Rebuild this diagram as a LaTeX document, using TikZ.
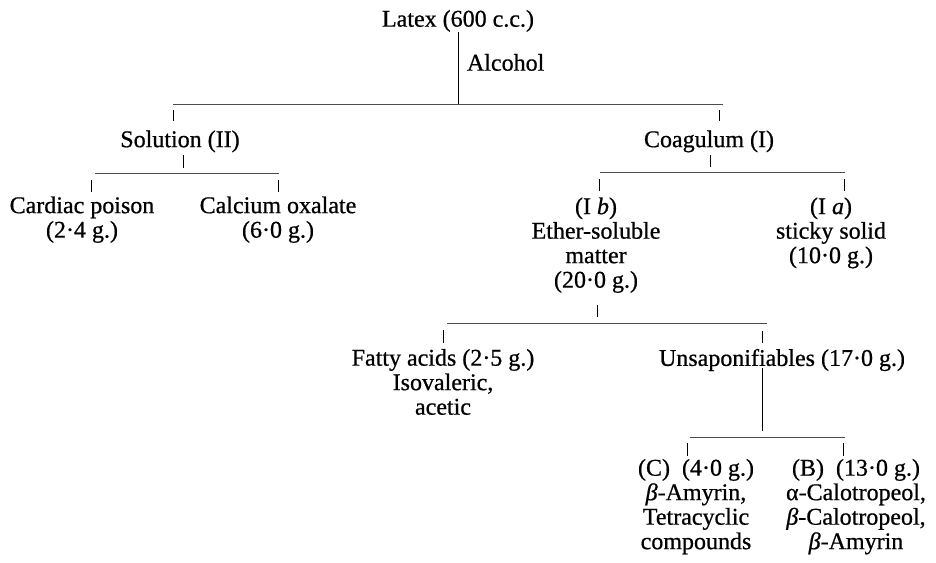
\documentclass[tikz,border=0pt]{standalone}
\usepackage{fontspec}
\setmainfont{Liberation Serif}[FakeBold=0.7]
\begin{document}
\begin{tikzpicture}[x=1pt,y=-1pt,
  lbl/.style={inner sep=0pt, outer sep=0pt, align=center, anchor=north, font=\fontsize{24}{24.5}\selectfont},
  hline/.style={line width=1pt, draw=black!70},
  vline/.style={line width=1pt, draw=black}]
\useasboundingbox (0,0) rectangle (936,562);
% nodes
\node[lbl] (latex) at (458,10) {Latex (600 c.c.)};
\node[lbl,anchor=north west] (alcohol) at (467,54) {Alcohol};
\node[lbl] (sol) at (180,130.5) {Solution (II)};
\node[lbl] (coag) at (709,130.5) {Coagulum (I)};
\node[lbl] (cardiac) at (82,196.5) {Cardiac poison\\(2·4 g.)};
\node[lbl] (calcium) at (278,196.5) {Calcium oxalate\\(6·0 g.)};
\node[lbl] (ib) at (596,197.5) {(I \textit{b})\\Ether-soluble\\matter\\(20·0 g.)};
\node[lbl] (ia) at (831,197.5) {(I \textit{a})\\sticky solid\\(10·0 g.)};
\node[lbl] (fatty) at (443,349) {Fatty acids (2·5 g.)\\Isovaleric,\\acetic};
\node[lbl] (unsap) at (782,349) {Unsaponifiables (17·0 g.)};
\node[lbl] (cc) at (696,459) {(C)\enspace(4·0 g.)\\\textit{β}-Amyrin,\\Tetracyclic\\compounds};
\node[lbl] (bb) at (856,459) {(B)\enspace(13·0 g.)\\α-Calotropeol,\\\textit{β}-Calotropeol,\\\textit{β}-Amyrin};
% junction coordinates
\coordinate (j0) at (458,104);
\coordinate (t0l) at (173,104); \coordinate (t0r) at (723,104);
\coordinate (k1a) at (173,110); \coordinate (k1b) at (173,121);
\coordinate (k2a) at (719,110); \coordinate (k2b) at (719,121);
\coordinate (sx) at (183,0); \coordinate (sv) at (183,168);
\coordinate (s1l) at (95,173); \coordinate (s1r) at (279,173);
\coordinate (k3a) at (91,180); \coordinate (k3b) at (91,192);
\coordinate (k4a) at (278,180); \coordinate (k4b) at (278,192);
\coordinate (cx) at (710,0); \coordinate (cv) at (710,167);
\coordinate (c1l) at (600,172); \coordinate (c1r) at (845,172);
\coordinate (k5a) at (599,179); \coordinate (k5b) at (599,191);
\coordinate (k6a) at (844,179); \coordinate (k6b) at (844,191);
\coordinate (ibx) at (597,305); \coordinate (ibv) at (597,317);
\coordinate (f1l) at (447,323); \coordinate (f1r) at (767,323);
\coordinate (k7a) at (443,330); \coordinate (k7b) at (443,343);
\coordinate (k8a) at (762,331); \coordinate (k8b) at (762,343);
\coordinate (ux) at (762,368); \coordinate (uv) at (762,431);
\coordinate (u1l) at (690,437); \coordinate (u1r) at (845,437);
\coordinate (k9a) at (687,443); \coordinate (k9b) at (687,456);
\coordinate (k10a) at (843,443); \coordinate (k10b) at (843,456);
% connectors
\draw[vline] (latex.south) -- (j0);
\draw[hline] (t0l) -- (t0r);
\draw[vline] (k1a) -- (k1b);
\draw[vline] (k2a) -- (k2b);
\draw[vline] ([yshift=-3pt]sol.south -| sx) -- (sv);
\draw[hline] (s1l) -- (s1r);
\draw[vline] (k3a) -- (k3b);
\draw[vline] (k4a) -- (k4b);
\draw[vline] ([yshift=-3pt]coag.south -| cx) -- (cv);
\draw[hline] (c1l) -- (c1r);
\draw[vline] (k5a) -- (k5b);
\draw[vline] (k6a) -- (k6b);
\draw[vline] (ibx) -- (ibv);
\draw[hline] (f1l) -- (f1r);
\draw[vline] (k7a) -- (k7b);
\draw[vline] (k8a) -- (k8b);
\draw[vline] (ux) -- (uv);
\draw[hline] (u1l) -- (u1r);
\draw[vline] (k9a) -- (k9b);
\draw[vline] (k10a) -- (k10b);
\end{tikzpicture}
\end{document}
